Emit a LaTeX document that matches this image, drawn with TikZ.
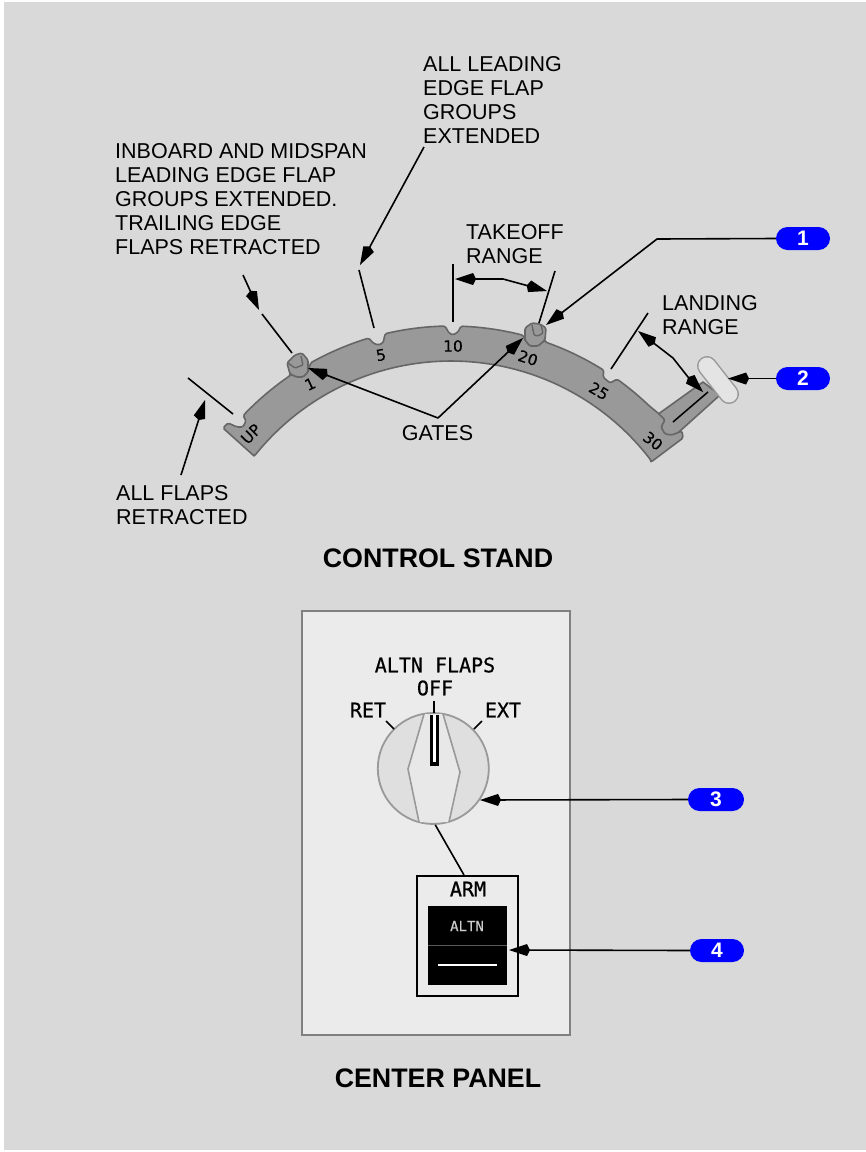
\documentclass[tikz,border=0pt]{standalone}
\usepackage{fontspec}
\setmainfont{Liberation Sans}
\newfontfamily\panelfont[FakeBold=0.6]{DejaVu Sans Mono}
\newfontfamily\armfont[FakeBold=1.0]{DejaVu Sans Mono}
\newfontfamily\scalefont[FakeBold=0.2]{DejaVu Sans}
\usetikzlibrary{arrows.meta}
\definecolor{bggray}{HTML}{D9D9D9}
\definecolor{panelgray}{HTML}{EBEBEB}
\definecolor{bandfill}{HTML}{999999}
\definecolor{bandedge}{HTML}{666666}
\definecolor{knobside}{HTML}{DFDFDF}
\definecolor{knobmid}{HTML}{E8E8E8}
\definecolor{handlefill}{HTML}{E4E4E4}
\definecolor{pillblue}{HTML}{0000FF}
\tikzset{
  kitetip/.tip={Kite[length=21pt,width=12pt,inset=3pt]},
  leader/.style={line width=1.6pt,draw=black,line join=round},
  arrowed/.style={leader,-kitetip},
  twoarrow/.style={leader,kitetip-kitetip},
  label/.style={align=left,anchor=north west,inner sep=0pt,font=\fontsize{21.5}{24}\selectfont},
  titletext/.style={inner sep=0pt,font=\fontsize{26.8}{30}\selectfont\bfseries},
  pill/.style={fill=pillblue,rounded corners=11.5pt,minimum height=23pt,inner sep=0pt,text=white,font=\fontsize{21}{21}\selectfont\bfseries},
  band/.style={fill=bandfill,draw=bandedge,line width=1.6pt,line join=round},
  bandline/.style={draw=bandedge,line width=1.4pt,rounded corners=1pt},
  scalemark/.style={inner sep=0pt,font=\fontsize{15.5}{16}\selectfont\scalefont},
  panelmark/.style={inner sep=0pt,font=\fontsize{20}{20}\selectfont\panelfont},
  knobline/.style={draw=black!40,line width=1.6pt},
  tick/.style={draw=black,line width=1.5pt}
}
\begin{document}
\begin{tikzpicture}[x=1pt,y=-1pt]
\useasboundingbox (0,0) rectangle (866,1152);
\fill[white] (0,0) rectangle (866,1152);
\fill[bggray] (4,2) rectangle (866,1150);

% ---------- control stand: lever behind the band
\draw[band] (650,420) -- (703,382) -- (720,395) -- (680,431) -- (668,442) -- cycle;
\draw[line width=20pt,draw=black!40,line cap=round] (707,366) -- (729,394);
\draw[line width=17pt,draw=handlefill,line cap=round] (707,366) -- (729,394);
\coordinate (leverA) at (673,422);
\coordinate (leverB) at (708,392);
\draw[line width=1.5pt] (leverA) -- (leverB);

% ---------- band
\draw[band,rounded corners=1.5pt]
  (651,462) -- (683,438) -- (682,431) -- (672,435) -- (665,434) -- (661,427) -- (665,420) -- (658,413)
  -- plot[domain=-46.1:-54.5,samples=10,shift={(451,612)}] (\x:286)
  -- (610,383) -- (603,377)
  -- plot[domain=-57.7:-70.8,samples=10,shift={(451,612)}] (\x:286)
  -- (545,340) -- (538,346) -- (530,346) -- (525,340)
  -- plot[domain=-75.4:-88,samples=12,shift={(451,612)}] (\x:286)
  -- (458,332) -- (453,335) -- (449,333)
  -- plot[domain=-91.2:-103.3,samples=12,shift={(451,612)}] (\x:286)
  -- (383,343) -- (378,345) -- (373,343)
  -- plot[domain=-106.7:-119.4,samples=12,shift={(451,612)}] (\x:286)
  -- (308,372) -- (303,377) -- (297,377) -- (290,374)
  -- plot[domain=-124.1:-136.6,samples=12,shift={(451,612)}] (\x:286)
  -- (246,421) -- (243,427) -- (237,427) -- (228,423) -- (223,428)
  -- (253,455)
  -- plot[domain=-141.6:-37.2,samples=80,shift={(451,612)}] (\x:251)
  -- cycle;
% gate lugs
\draw[band,rounded corners=1.5pt] (290,374) -- (287,363) -- (295,355) -- (302,353) -- (308,360) -- (308,372) -- (303,377) -- (297,377) -- cycle;
\draw[bandline] (288,363) -- (295,368) -- (303,365) -- (301,356);
\draw[band,rounded corners=1.5pt] (525,340) -- (525,328) -- (532,323) -- (540,324) -- (546,328) -- (545,340) -- (538,346) -- (530,346) -- cycle;
\draw[bandline] (532,325) -- (534,335) -- (538,336) -- (543,333) -- (541,325);

% scale marks
\node[scalemark,rotate=45] (markUP) at (251,434) {UP};
\node[scalemark,rotate=25] (mark1) at (310,384) {1};
\node[scalemark,rotate=10] (mark5) at (381,355) {5};
\node[scalemark] (mark10) at (453,346) {10};
\node[scalemark,rotate=-18] (mark20) at (528,358) {20};
\node[scalemark,rotate=-30] (mark25) at (599,391) {25};
\node[scalemark,rotate=-38] (mark30) at (653,441) {30};

% ---------- labels
\node[label] (lblRetracted) at (116,485) {ALL FLAPS\\RETRACTED};
\node[label] (lblInboard) at (115,143) {INBOARD AND MIDSPAN\\LEADING EDGE FLAP\\GROUPS EXTENDED.\\TRAILING EDGE\\FLAPS RETRACTED};
\node[label] (lblLeading) at (423,56) {ALL LEADING\\EDGE FLAP\\GROUPS\\EXTENDED};
\node[label] (lblTakeoff) at (466,224) {TAKEOFF\\RANGE};
\node[label] (lblLanding) at (662,295) {LANDING\\RANGE};
\node[inner sep=0pt,font=\fontsize{21.5}{24}\selectfont] (lblGates) at (437.5,433) {GATES};
\node[titletext] (titleStand) at (438,558) {CONTROL STAND};
\node[titletext] (titlePanel) at (438,1078) {CENTER PANEL};

% ---------- callouts
\node[pill,minimum width=54pt] (c1) at (803,238.5) {1};
\node[pill,minimum width=54pt] (c2) at (803,378.5) {2};
\node[pill,minimum width=56pt] (c3) at (716,799.5) {3};
\node[pill,minimum width=54pt] (c4) at (717,950.5) {4};

% ---------- leaders with free ends
\coordinate (t1bend) at (657,239);
\coordinate (t1tip) at (546,325);
\coordinate (t2tip) at (728,378.5);
\coordinate (gateFork) at (438,418);
\coordinate (gate1tip) at (308,368);
\coordinate (gate2tip) at (523,338);
\draw[arrowed] (c1.west) -- (t1bend) -- (t1tip);
\draw[arrowed] (c2.west) -- (t2tip);
\draw[arrowed] (gateFork) -- (gate1tip);
\draw[arrowed] (gateFork) -- (gate2tip);

\coordinate (retA) at (181,475);
\coordinate (retB) at (205,400);
\draw[arrowed] (retA) -- (retB);
\coordinate (upA) at (188,378);
\coordinate (upB) at (233,414);
\draw[leader] (upA) -- (upB);

\coordinate (inA) at (243,275);
\coordinate (inB) at (259,310);
\draw[arrowed] (inA) -- (inB);
\coordinate (inC) at (262,314);
\coordinate (inD) at (292,353);
\draw[leader] (inC) -- (inD);

\coordinate (leadA) at (424,147);
\coordinate (leadB) at (360,265);
\draw[arrowed] (leadA) -- (leadB);
\coordinate (leadC) at (359,270);
\coordinate (leadD) at (374,328);
\draw[leader] (leadC) -- (leadD);

\coordinate (toA) at (453,264);
\coordinate (toB) at (453,322);
\draw[leader] (toA) -- (toB);
\coordinate (toC) at (555,271);
\coordinate (toD) at (539,323);
\draw[leader] (toC) -- (toD);
\coordinate (toL) at (455,279);
\coordinate (toM) at (503,279);
\coordinate (toR) at (547,291);
\draw[twoarrow] (toL) -- (toM) -- (toR);

\coordinate (ldA) at (648,313);
\coordinate (ldB) at (611,369);
\draw[leader] (ldA) -- (ldB);
\coordinate (ldL) at (638,331);
\coordinate (ldM) at (673,358);
\coordinate (ldN) at (688,377);
\coordinate (ldR) at (703,392);
\draw[twoarrow] (ldL) -- (ldM) -- (ldN) -- (ldR);

% ---------- center panel
\draw[fill=panelgray,draw=black!50,line width=1.8pt] (302,611) rectangle (570,1035);
\node[panelmark] (altn) at (435,665) {ALTN FLAPS};
\node[panelmark] (off) at (435,688) {OFF};
\node[panelmark] (ret) at (368,710) {RET};
\node[panelmark] (ext) at (503,710) {EXT};

\node[circle,draw=black!40,fill=knobside,line width=1.8pt,minimum size=111pt,inner sep=0pt] (knob) at (433.3,768.5) {};
\fill[knobmid] (424,714) -- (408,769) -- (419,822) -- (449,822) -- (460,772) -- (443,714) -- cycle;
\draw[knobline] (424,714) -- (408,769) -- (419,822);
\draw[knobline] (443,714) -- (460,772) -- (449,822);
\fill[black] (430,715) rectangle (439,766);
\fill[white] (433.3,715) rectangle (435.8,761.5);
\coordinate (offA) at (434,701);
\coordinate (offB) at (434,713);
\coordinate (retTa) at (386,721);
\coordinate (retTb) at (394,729);
\coordinate (extTa) at (482,721);
\coordinate (extTb) at (474,729);
\draw[tick] (offA) -- (offB);
\draw[tick] (retTa) -- (retTb);
\draw[tick] (extTa) -- (extTb);

\node[draw=black,line width=1.8pt,fill=panelgray,minimum width=101pt,minimum height=120pt,inner sep=0pt] (armbox) at (467.5,936) {};
\coordinate (armfoot) at (464,875);
\draw[leader] ([xshift=2pt]knob.south) -- (armfoot);
\node[panelmark,font=\fontsize{20}{20}\selectfont\armfont] (arm) at (468,889) {ARM};
\node[fill=black,minimum width=79pt,minimum height=79pt,inner sep=0pt] (lamp) at (467.5,945.5) {};
\node[inner sep=0pt,text=black!20,font=\fontsize{14}{14}\selectfont\panelfont] (lampaltn) at (467,926) {ALTN};
\draw[draw=black!65,line width=1.3pt] (lamp.west) -- (lamp.east);
\coordinate (lampA) at (438,965);
\coordinate (lampB) at (497,965);
\draw[white,line width=2pt] (lampA) -- (lampB);

\coordinate (t3tip) at (480,800);
\coordinate (t4tip) at (509,950);
\draw[arrowed] (c3.west) -- (t3tip);
\draw[arrowed] (c4.west) -- (t4tip);
\end{tikzpicture}
\end{document}
